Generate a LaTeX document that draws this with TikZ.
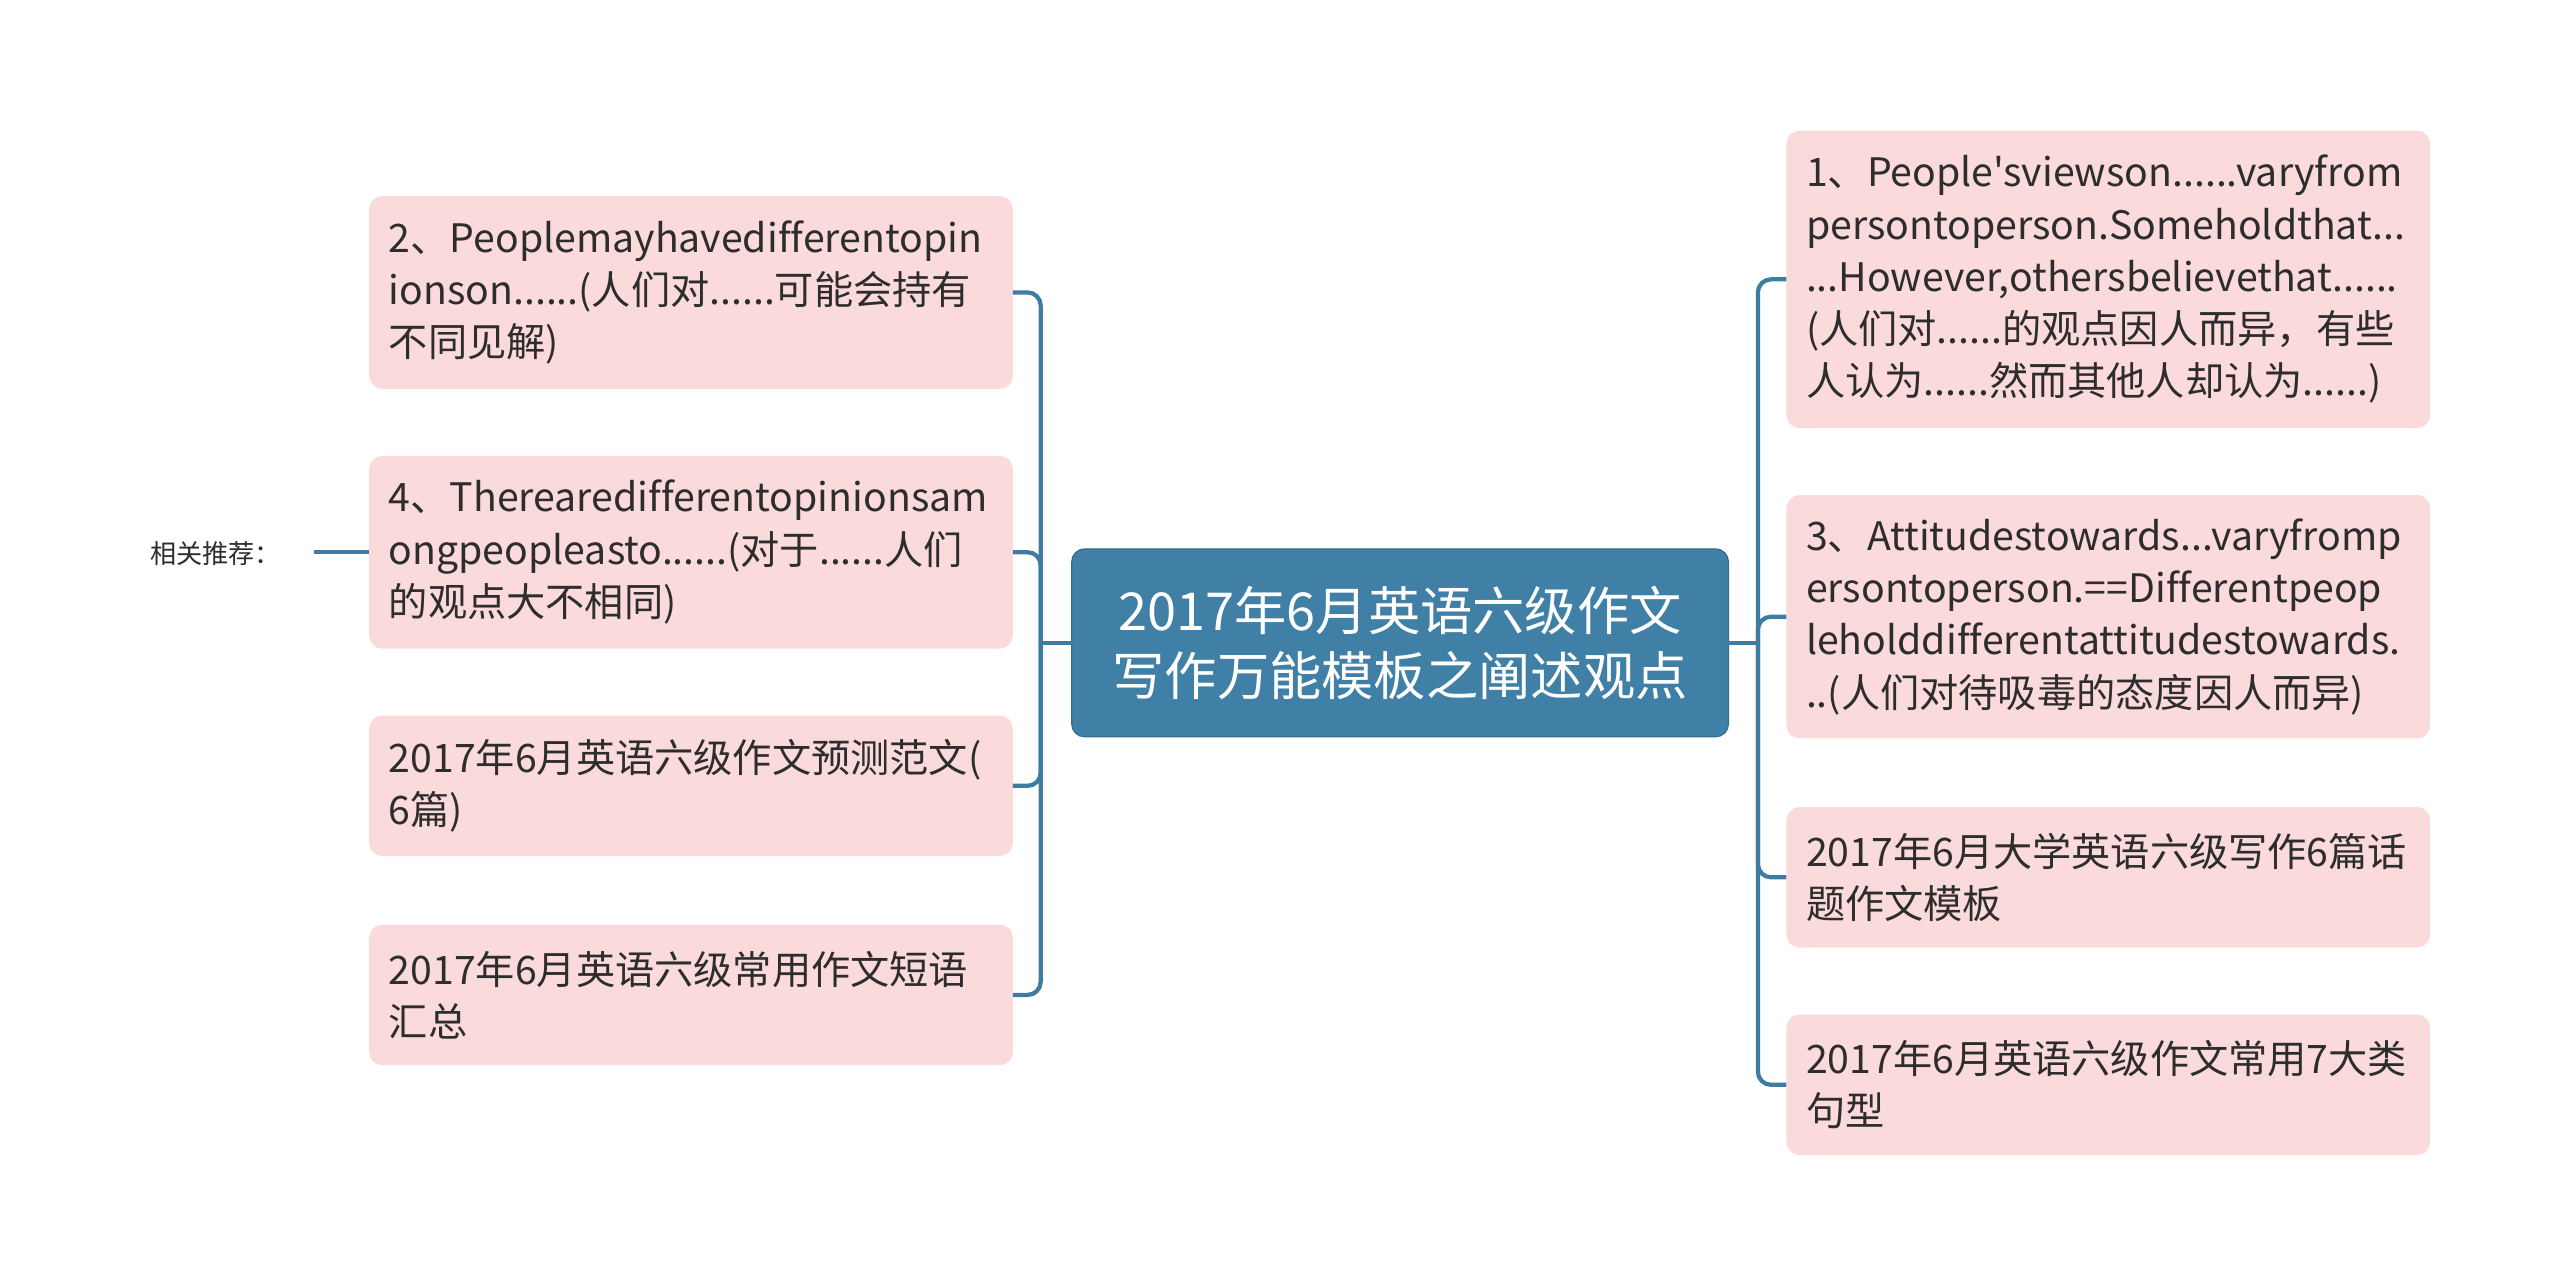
\documentclass[tikz,border=0pt]{standalone}
\usepackage{fontspec}
\setmainfont[Ligatures={CommonOff,TeXOff}]{Noto Sans CJK SC}
\usepackage{tikz}
\usetikzlibrary{positioning}

\definecolor{boxpink}{RGB}{251,218,219}
\definecolor{mainblue}{RGB}{64,127,166}
\definecolor{linkblue}{RGB}{62,124,164}
\definecolor{txtgray}{RGB}{45,45,45}

\begin{document}
\begin{tikzpicture}[
            x=0.5pt, y=-0.5pt,
            every node/.style={inner sep=0pt, outer sep=0pt},
            topicbox/.style={fill=boxpink, rounded corners=4pt, text=txtgray, align=left,
                text width=185pt, inner xsep=6pt, minimum width=197pt,
                font=\fontsize{12}{16}\selectfont},
            rootbox/.style={fill=mainblue, draw=mainblue!85!black, line width=0.4pt, rounded corners=4pt,
                text=white, align=center, minimum width=201pt, minimum height=57.5pt,
                font=\fontsize{16}{20}\selectfont},
            link/.style={draw=linkblue, line width=1.3pt, rounded corners=4pt},
        ]
        \useasboundingbox (0,0) rectangle (1567,788);

        \node[rootbox] (root) at (857,393.5) {2017年6月英语六级作文\\写作万能模板之阐述观点};

        % left side
        \node[topicbox, minimum height=59pt] (l2) at (423,179) {2、Peoplemayhavedifferentopin\\ionson......(人们对......可能会持有\\不同见解)};
        \node[topicbox, minimum height=59pt] (l4) at (423,338) {4、Therearedifferentopinionsam\\ongpeopleasto......(对于......人们\\的观点大不相同)};
        \node[topicbox, minimum height=43pt] (lpred) at (423,481) {2017年6月英语六级作文预测范文(\\6篇)};
        \node[topicbox, minimum height=43pt] (lphr) at (423,609) {2017年6月英语六级常用作文短语\\汇总};

        \node[text=txtgray, font=\fontsize{8}{10}\selectfont, anchor=east] (rel) at (172,339) {相关推荐：};

        % right side
        \node[topicbox, minimum height=91pt] (r1) at (1290.5,171) {1、People'sviewson......varyfrom\\persontoperson.Someholdthat...\\...However,othersbelievethat......\\(人们对......的观点因人而异，有些\\人认为......然而其他人却认为......)};
        \node[topicbox, minimum height=74.5pt] (r3) at (1290.5,377.5) {3、Attitudestowards...varyfromp\\ersontoperson.==Differentpeop\\leholddifferentattitudestowards.\\..(人们对待吸毒的态度因人而异)};
        \node[topicbox, minimum height=43pt] (runi) at (1290.5,537) {2017年6月大学英语六级写作6篇话\\题作文模板};
        \node[topicbox, minimum height=43pt] (rsent) at (1290.5,664) {2017年6月英语六级作文常用7大类\\句型};

        \coordinate (ltrunk) at (637,393.5);
        \coordinate (rtrunk) at (1076,393.5);
        \coordinate (relend) at (192,338);

        \draw[link] (root.west) -- (ltrunk);
        \draw[link] (ltrunk) |- (l2.east);
        \draw[link] (ltrunk) |- (l4.east);
        \draw[link] (ltrunk) |- (lpred.east);
        \draw[link] (ltrunk) |- (lphr.east);

        \draw[link] (root.east) -- (rtrunk);
        \draw[link] (rtrunk) |- (r1.west);
        \draw[link] (rtrunk) |- (r3.west);
        \draw[link] (rtrunk) |- (runi.west);
        \draw[link] (rtrunk) |- (rsent.west);

        \draw[link] (relend) -- (l4.west);
\end{tikzpicture}
\end{document}
